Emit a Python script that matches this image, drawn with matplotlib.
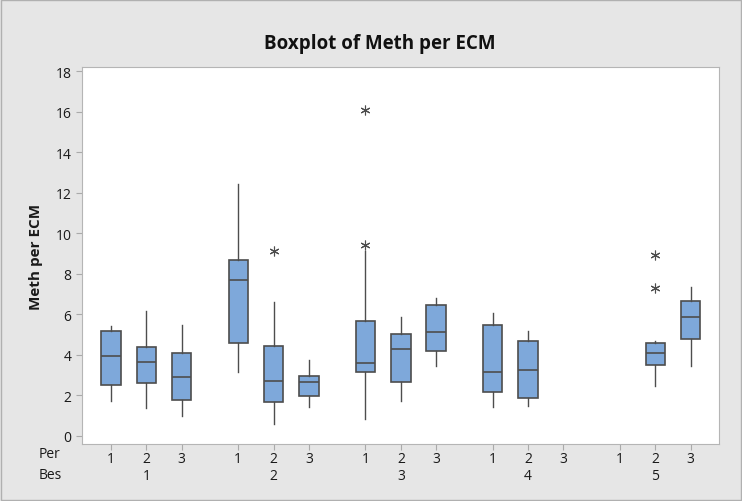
import matplotlib.pyplot as plt
from matplotlib.transforms import blended_transform_factory

plt.rcParams['font.family'] = ['Open Sans', 'DejaVu Sans']

# groups: Bes 1..5, each with Per 1..3
bes = ['1', '2', '3', '4', '5']
per = ['1', '2', '3']

# box stats per (Bes, Per); None = no data
q1 = [[2.51, 2.61, 1.79], [4.57, 1.66, 1.99], [3.14, 2.68, 4.21], [2.15, 1.86, None], [None, 3.50, 4.77]]
med = [[3.94, 3.67, 2.89], [7.69, 2.73, 2.65], [3.58, 4.31, 5.11], [3.14, 3.27, None], [None, 4.08, 5.88]]
q3 = [[5.19, 4.40, 4.09], [8.66, 4.42, 2.97], [5.65, 5.03, 6.46], [5.49, 4.67, None], [None, 4.59, 6.64]]
wlo = [[1.71, 1.38, 1.00], [3.17, 0.58, 1.41], [0.84, 1.73, 3.47], [1.41, 1.50, None], [None, 2.45, 3.47]]
whi = [[5.44, 6.15, 5.47], [12.43, 6.62, 3.76], [9.14, 5.85, 6.79], [6.05, 5.16, None], [None, 4.67, 7.33]]
outliers = [[[], [], []], [[], [9.11], []], [[16.07, 9.43], [], []], [[], [], []], [[], [8.94, 7.28], []]]

stats = []
positions = []
tick_pos = []
tick_lab = []
for g in range(len(bes)):
    for p in range(len(per)):
        x = g * 3.6 + p
        tick_pos.append(x)
        tick_lab.append(per[p])
        if med[g][p] is None:
            continue
        stats.append(dict(med=med[g][p], q1=q1[g][p], q3=q3[g][p],
                          whislo=wlo[g][p], whishi=whi[g][p], fliers=outliers[g][p]))
        positions.append(x)

fig = plt.figure(figsize=(7.42, 5.02), dpi=100, facecolor='#e6e6e6')
ax = fig.add_axes([0.1105, 0.1135, 0.8585, 0.751])
edge = '#4d4d4d'
ax.bxp(stats, positions=positions, widths=0.55, patch_artist=True, showcaps=False,
       boxprops=dict(facecolor='#7ea8da', edgecolor=edge, linewidth=1.2),
       medianprops=dict(color=edge, linewidth=1.2),
       whiskerprops=dict(color=edge, linewidth=1.0),
       flierprops=dict(marker=(6, 2, 0), markersize=7, markeredgecolor=edge,
                       markeredgewidth=0.8, linestyle='none'))

ax.set_xlim(-0.82, 17.2)
ax.set_ylim(-0.4, 18.2)
ax.set_yticks(range(0, 19, 2))
ax.set_xticks(tick_pos)
ax.set_xticklabels(tick_lab)
ax.tick_params(axis='both', length=4, color='#aaaaaa', labelsize=10, colors='#1a1a1a')
ax.tick_params(axis='x', pad=1)
for s in ax.spines.values():
    s.set_color('#b5b5b5')
ax.set_ylabel('Meth per ECM', fontsize=11, fontweight='bold', color='#1a1a1a', labelpad=9)
fig.text(380 / 742, 1 - 44 / 502, 'Boxplot of Meth per ECM', ha='center', va='center',
         fontsize=13.5, fontweight='bold', color='#111111')

tr = blended_transform_factory(ax.transData, ax.transAxes)
for g in range(len(bes)):
    ax.text(g * 3.6 + 1, -0.083, bes[g], transform=tr, ha='center', va='center',
            fontsize=10, color='#1a1a1a')
fig.text(39 / 742, 1 - 455 / 502, 'Per', ha='left', va='center', fontsize=10, color='#1a1a1a')
fig.text(39 / 742, 1 - 476 / 502, 'Bes', ha='left', va='center', fontsize=10, color='#1a1a1a')

fig.patches.append(plt.Rectangle((0.001, 0.001), 0.998, 0.998, transform=fig.transFigure,
                                 fill=False, edgecolor='#b0b0b0', linewidth=1))
fig.savefig('out.png', dpi=100, facecolor=fig.get_facecolor())
